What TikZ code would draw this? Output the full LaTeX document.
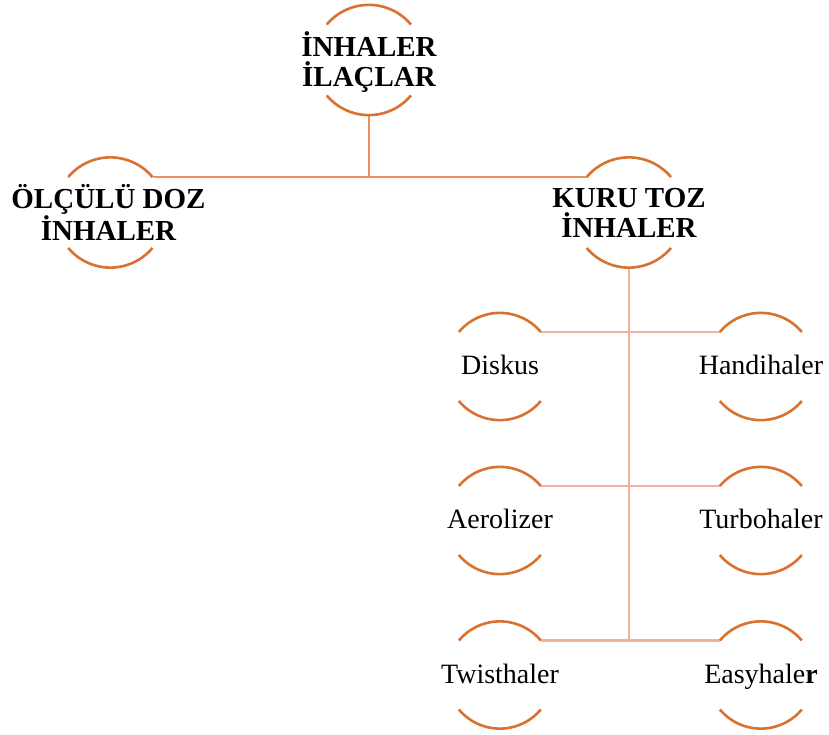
\documentclass[tikz,border=0pt]{standalone}
\usepackage{fontspec}
\setmainfont{Liberation Serif}
\definecolor{arcc}{HTML}{D9712F}
\definecolor{conupper}{HTML}{EC8F62}
\definecolor{conlower}{HTML}{F2B29A}
\begin{document}
\begin{tikzpicture}[x=1pt,y=-1pt,
  ring/.style={circle, minimum size=110pt, inner sep=0pt},
  leafring/.style={ring, minimum size=107pt},
  lvltext/.style={align=center, text=black, inner sep=0pt, font=\bfseries\fontsize{29}{30}\selectfont},
  leaftext/.style={text=black, inner sep=0pt, anchor=base, font=\fontsize{28}{30}\selectfont},
  arcline/.style={draw=arcc, line width=2.6pt},
  conA/.style={draw=conupper, line width=2.3pt},
  conB/.style={draw=conlower, line width=2.3pt}]
\useasboundingbox (0,0) rectangle (829,735);
% circles
\node[ring] (root) at (369,60) {};
\node[ring] (mdi) at (110.5,212.5) {};
\node[ring] (dpi) at (629,212.5) {};
\node[leafring] (disk) at (500,366.5) {};
\node[leafring] (handi) at (761,366.5) {};
\node[leafring] (aero) at (500,520.5) {};
\node[leafring] (turbo) at (761,520.5) {};
\node[leafring] (twist) at (500,675) {};
\node[leafring] (easy) at (761,675) {};
% texts
\node[lvltext] (roott) at ([yshift=-2pt]root.center) {İNHALER\\İLAÇLAR};
\node[lvltext] (mdit) at ([xshift=-2pt]mdi.center) {ÖLÇÜLÜ DOZ\\İNHALER};
\node[lvltext] (dpit) at (dpi.center) {KURU TOZ\\İNHALER};
\node[leaftext] (diskt) at ([yshift=-8pt]disk.center) {Diskus};
\node[leaftext] (handit) at ([yshift=-8pt]handi.center) {Handihaler};
\node[leaftext] (aerot) at ([yshift=-8pt]aero.center) {Aerolizer};
\node[leaftext] (turbot) at ([yshift=-8pt]turbo.center) {Turbohaler};
\node[leaftext] (twistt) at ([yshift=-8pt]twist.center) {Twisthaler};
\node[leaftext] (easyt) at ([yshift=-8pt]easy.center) {Easyhale\textbf{r}};
% connectors
\draw[conA] (root.south) |- (mdi.40);
\draw[conA] (root.south) |- (dpi.140);
\draw[conB] (dpi.south) |- (disk.40);
\draw[conB] (dpi.south) |- (handi.140);
\draw[conB] (dpi.south) |- (aero.40);
\draw[conB] (dpi.south) |- (turbo.140);
\draw[conB] (dpi.south) |- (twist.40);
\draw[conB] (dpi.south) |- (easy.140);
% arcs
\foreach \n/\r in {root/55, mdi/55, dpi/55, disk/53.5, handi/53.5, aero/53.5, turbo/53.5, twist/53.5, easy/53.5}{
  \draw[arcline] (\n.140) arc[start angle=140, end angle=40, radius=\r pt];
  \draw[arcline] (\n.220) arc[start angle=220, end angle=320, radius=\r pt];
}
\end{tikzpicture}
\end{document}
